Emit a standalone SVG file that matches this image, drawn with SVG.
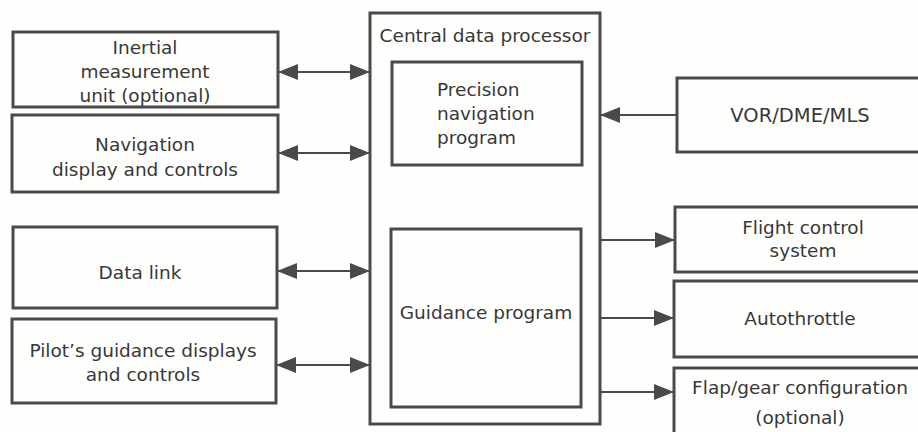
<svg xmlns="http://www.w3.org/2000/svg" width="918" height="432" viewBox="0 0 918 432">
  <style>
    .box { fill: none; stroke: #4a4a4a; stroke-width: 3; }
    .lbl { font-family: "DejaVu Sans", "Liberation Sans", sans-serif; font-size: 18.5px; fill: #383838; text-anchor: middle; }
    .lbl-l { font-family: "DejaVu Sans", "Liberation Sans", sans-serif; font-size: 18.5px; fill: #383838; text-anchor: start; }
    .conn { stroke: #4a4a4a; stroke-width: 2; fill: none; }
  </style>
  <defs>
    <marker id="head" viewBox="0 0 20 16" refX="20" refY="8" markerWidth="20" markerHeight="16" markerUnits="userSpaceOnUse" orient="auto-start-reverse">
      <path d="M0,0 L20,8 L0,16 z" fill="#4a4a4a"/>
    </marker>
  </defs>
  <rect width="918" height="432" fill="#fefefd"/>

  <!-- left-hand units -->
  <g id="imu">
    <rect class="box" x="13" y="32" width="265" height="75"/>
    <text class="lbl" x="145" y="54">Inertial</text>
    <text class="lbl" x="145" y="78">measurement</text>
    <text class="lbl" x="145" y="102">unit (optional)</text>
  </g>
  <g id="nav-display">
    <rect class="box" x="12" y="115" width="266" height="77"/>
    <text class="lbl" x="145" y="151">Navigation</text>
    <text class="lbl" x="145" y="176">display and controls</text>
  </g>
  <g id="data-link">
    <rect class="box" x="13" y="227" width="264" height="81"/>
    <text class="lbl" x="140" y="279">Data link</text>
  </g>
  <g id="pilot-displays">
    <rect class="box" x="12" y="319" width="264" height="84"/>
    <text class="lbl" x="143" y="357">Pilot’s guidance displays</text>
    <text class="lbl" x="143" y="381">and controls</text>
  </g>

  <!-- central processor with its two programs -->
  <g id="cdp">
    <rect class="box" x="370" y="13" width="230" height="411"/>
    <text class="lbl" x="485" y="42">Central data processor</text>
  </g>
  <g id="precision-nav">
    <rect class="box" x="392" y="62" width="190" height="103"/>
    <text class="lbl-l" x="437" y="96">Precision</text>
    <text class="lbl-l" x="437" y="120">navigation</text>
    <text class="lbl-l" x="437" y="144">program</text>
  </g>
  <g id="guidance">
    <rect class="box" x="391" y="229" width="190" height="178"/>
    <text class="lbl" x="486" y="319">Guidance program</text>
  </g>

  <!-- right-hand units -->
  <g id="vor">
    <rect class="box" x="677" y="78" width="260" height="74"/>
    <text class="lbl" x="800" y="122" style="font-size:19.5px">VOR/DME/MLS</text>
  </g>
  <g id="fcs">
    <rect class="box" x="675" y="207" width="260" height="65"/>
    <text class="lbl" x="803" y="234">Flight control</text>
    <text class="lbl" x="803" y="257">system</text>
  </g>
  <g id="autothrottle">
    <rect class="box" x="674" y="281" width="260" height="76"/>
    <text class="lbl" x="800" y="325">Autothrottle</text>
  </g>
  <g id="flap-gear">
    <rect class="box" x="674" y="368" width="260" height="80"/>
    <text class="lbl" x="800" y="394">Flap/gear configuration</text>
    <text class="lbl" x="800" y="424">(optional)</text>
  </g>

  <!-- connectors -->
  <g id="connectors">
    <line class="conn" x1="278" y1="72" x2="370" y2="72" marker-start="url(#head)" marker-end="url(#head)"/>
    <line class="conn" x1="278" y1="153" x2="370" y2="153" marker-start="url(#head)" marker-end="url(#head)"/>
    <line class="conn" x1="277" y1="271" x2="370" y2="271" marker-start="url(#head)" marker-end="url(#head)"/>
    <line class="conn" x1="276" y1="365" x2="370" y2="365" marker-start="url(#head)" marker-end="url(#head)"/>
    <line class="conn" x1="677" y1="115" x2="600" y2="115" marker-end="url(#head)"/>
    <line class="conn" x1="600" y1="240" x2="675" y2="240" marker-end="url(#head)"/>
    <line class="conn" x1="600" y1="318" x2="674" y2="318" marker-end="url(#head)"/>
    <line class="conn" x1="600" y1="392" x2="674" y2="392" marker-end="url(#head)"/>
  </g>
</svg>
